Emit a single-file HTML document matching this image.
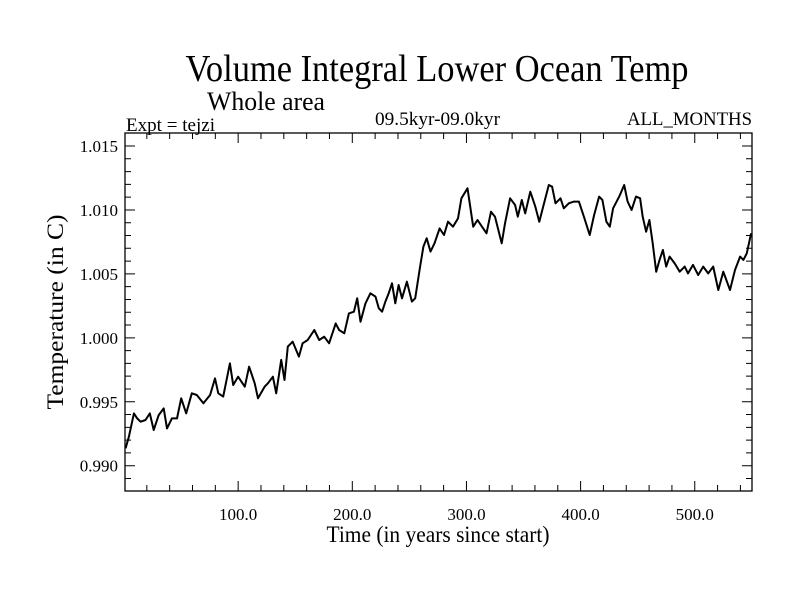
<!DOCTYPE html>
<html><head><meta charset="utf-8"><style>
body{margin:0;background:#fff}
svg{display:block;font-family:"Liberation Serif",serif}
</style></head><body>
<svg id="chart" width="800" height="600" viewBox="0 0 800 600">
<rect width="800" height="600" fill="#fff"/>
<text x="437" y="81" font-size="38" text-anchor="middle" textLength="503" lengthAdjust="spacingAndGlyphs">Volume Integral Lower Ocean Temp</text>
<text x="207" y="110" font-size="26" textLength="118" lengthAdjust="spacingAndGlyphs">Whole area</text>
<text x="126" y="131" font-size="19" textLength="89" lengthAdjust="spacingAndGlyphs">Expt = tejzi</text>
<text x="375" y="125" font-size="19" textLength="125" lengthAdjust="spacingAndGlyphs">09.5kyr-09.0kyr</text>
<text x="752" y="125" font-size="19" text-anchor="end" textLength="125" lengthAdjust="spacingAndGlyphs">ALL_MONTHS</text>
<g id="axes"></g>
<text x="438" y="542" font-size="23" text-anchor="middle" textLength="223" lengthAdjust="spacingAndGlyphs">Time (in years since start)</text>
<text transform="translate(63,312) rotate(-90)" font-size="23" text-anchor="middle" textLength="195" lengthAdjust="spacingAndGlyphs">Temperature (in C)</text>
</svg>
<script>
const years=[1.4,4.3,8.7,11.6,14.5,18.8,22.6,26,30.4,34.8,37.7,42,46.4,50.1,54.5,59.4,63.8,69.6,75.4,79.7,82.6,86.9,92.8,95.7,100,105.8,109.6,114.5,117.4,123.2,126.1,130.4,133.3,137.7,140.6,143.5,147.8,153.2,156.5,160.9,166.7,171,175.4,179.7,185.5,188.4,193,197,201.4,204.3,207.2,211.6,215.9,220.3,223.2,226.1,229,231.9,234.8,237.7,240.6,243.5,247.8,252.2,255.1,259.4,262.3,265.2,268.5,272,276.5,280.3,283.8,288.2,292.6,295.6,300.9,305.9,309.7,314.7,317.6,321.5,325,330.9,333.8,338.2,342.6,345,348.5,351.5,355.9,360.3,363.8,367.6,372.1,375,378,382.4,385.3,389.7,394.1,398.5,402.9,408,411.8,416.2,419.1,422.6,425.6,428.5,433.8,438.2,441.2,444.7,448.5,452.1,454.4,457.4,460.3,463.2,466.2,469.1,472.1,475,478,482.4,486.8,491.2,494.1,498.5,503,507.4,511.8,516.2,520.6,525,530.9,535.3,539.7,542.6,545.6,549.4];
const temps=[0.99136,0.99227,0.99409,0.9937,0.99344,0.99357,0.99409,0.99279,0.99396,0.99448,0.99292,0.9937,0.9937,0.99527,0.99409,0.99566,0.99553,0.99488,0.99553,0.99683,0.99566,0.9954,0.998,0.99631,0.99696,0.99618,0.99774,0.99644,0.99527,0.99618,0.99644,0.99696,0.99566,0.99827,0.9967,0.99931,0.9997,0.99853,0.99957,0.99983,1.00061,0.99983,1.00009,0.99957,1.00113,1.00061,1.00035,1.00191,1.00204,1.00309,1.00126,1.0027,1.00348,1.00322,1.00231,1.00204,1.00283,1.00348,1.00426,1.0027,1.00413,1.00309,1.00439,1.00283,1.00309,1.00557,1.00713,1.00778,1.00674,1.00739,1.00856,1.00804,1.00908,1.00869,1.00934,1.01091,1.01169,1.00869,1.00921,1.00856,1.00817,1.00986,1.00947,1.00739,1.00895,1.01091,1.01039,1.00947,1.01078,1.00973,1.01143,1.01026,1.00908,1.01039,1.01195,1.01182,1.01052,1.01091,1.01013,1.01052,1.01065,1.01065,1.00947,1.00804,1.0096,1.01104,1.01078,1.00908,1.00869,1.01013,1.01104,1.01195,1.01065,1.01,1.01104,1.01091,1.00947,1.0083,1.00921,1.00739,1.00517,1.00608,1.00687,1.00557,1.00635,1.00582,1.00517,1.00557,1.00504,1.0057,1.00491,1.00557,1.00504,1.00557,1.00374,1.00517,1.00374,1.0053,1.00635,1.00609,1.00661,1.00817];
const xTicks=[100,200,300,400,500];
const xTickLabels=["100.0","200.0","300.0","400.0","500.0"];
const yTicks=[0.990,0.995,1.000,1.005,1.010,1.015];
const yTickLabels=["0.990","0.995","1.000","1.005","1.010","1.015"];
const L=125,R=752,T=133,B=491;
const xs=v=>124+(v)*1.1415;
const ys=v=>465.7-(v-0.990)*12788;
const NS='http://www.w3.org/2000/svg';
const g=document.getElementById('axes');
function mk(t,a){const e=document.createElementNS(NS,t);for(const k in a)e.setAttribute(k,a[k]);g.appendChild(e);return e;}
const frame=mk('rect',{x:L,y:T,width:R-L,height:B-T,fill:'none',stroke:'#000','stroke-width':1.3});


let d='';
for(let v=20;v<=540;v+=20){const x=xs(v);const len=(v%100===0)?10:6;d+=`M${x},${B}v${-len}M${x},${T}v${len}`;}
for(let i=0;i<=27;i++){const v=0.988+i*0.001;const y=ys(v);if(y<T||y>B)continue;const major=Math.abs((v*1000)%5)<0.01||Math.abs((v*1000)%5-5)<0.01;const len=major?10:6;d+=`M${L},${y}h${len}M${R},${y}h${-len}`;}
const ticks=mk('path',{d:d,stroke:'#000','stroke-width':1,fill:'none'});


xTicks.forEach((v,i)=>{const t=mk('text',{x:xs(v),y:520,'font-size':17,'text-anchor':'middle'});t.textContent=xTickLabels[i];

});
yTicks.forEach((v,i)=>{const t=mk('text',{x:118,y:ys(v)+6,'font-size':17,'text-anchor':'end'});t.textContent=yTickLabels[i];

});
const pts=years.map((v,i)=>xs(v).toFixed(1)+','+ys(temps[i]).toFixed(1)).join(' ');
const line=mk('polyline',{points:pts,fill:'none',stroke:'#000','stroke-width':2,'stroke-linejoin':'round'});


</script>
</body></html>
